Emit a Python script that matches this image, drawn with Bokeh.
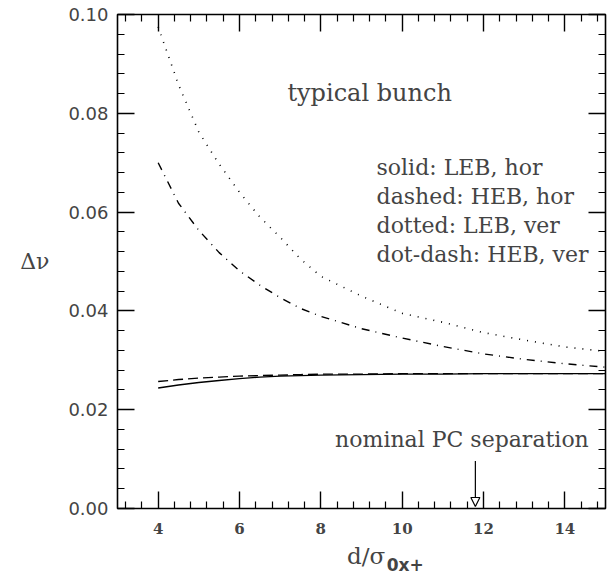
from bokeh.plotting import figure
from bokeh.models import (Range1d, LinearAxis, Label, Arrow, NormalHead, FixedTicker,
                          CustomLabelingPolicy)
from bokeh.layouts import column
from bokeh.embed import file_html
from bokeh.resources import INLINE

# data
x_vals = [4, 4.5, 5, 5.5, 6, 6.5, 7, 7.5, 8, 9, 10, 11, 12, 13, 14, 15]
solid_leb_hor = [0.0244, 0.0250, 0.0255, 0.0259, 0.0263, 0.0266, 0.0268, 0.0269, 0.0270,
                 0.0271, 0.0272, 0.0272, 0.0273, 0.0273, 0.0273, 0.0273]
dashed_heb_hor = [0.0257, 0.0261, 0.0264, 0.0266, 0.0268, 0.0269, 0.0270, 0.0271, 0.0272,
                  0.0272, 0.0273, 0.0273, 0.0273, 0.0273, 0.0273, 0.0273]
dotted_leb_ver = [0.0975, 0.0858, 0.0762, 0.0697, 0.0640, 0.0590, 0.0549, 0.0505, 0.0470,
                  0.0430, 0.0395, 0.0377, 0.0356, 0.0341, 0.0327, 0.0318]
dotdash_heb_ver = [0.0700, 0.0618, 0.0563, 0.0518, 0.0481, 0.0452, 0.0427, 0.0405, 0.0389,
                   0.0364, 0.0345, 0.0328, 0.0313, 0.0302, 0.0293, 0.0286]
x_major = [4, 6, 8, 10, 12, 14]
y_major = [0.0, 0.02, 0.04, 0.06, 0.08, 0.10]
y_labels = ["0.00", "0.02", "0.04", "0.06", "0.08", "0.10"]
legend_lines = ["solid: LEB, hor", "dashed: HEB, hor", "dotted: LEB, ver", "dot-dash: HEB, ver"]
nominal_sep = 11.8

x_minor = [round(3.2 + 0.4 * i, 2) for i in range(30) if 3.2 + 0.4 * i < 15]
x_minor = [v for v in x_minor if all(abs(v - m) > 1e-6 for m in x_major)]
y_minor = [round(0.004 * i, 4) for i in range(26)]
y_minor = [v for v in y_minor if all(abs(v - m) > 1e-6 for m in y_major)]

SERIF = "DejaVu Serif"
SANS = "DejaVu Sans"
W = 610
LEFT = 117
RIGHT = 1
P_H = 540
Q_H = 35

xr = Range1d(3, 15)
p = figure(width=W, height=P_H, x_range=xr, y_range=Range1d(0, 0.1), title=None,
           output_backend="svg", toolbar_location=None,
           x_axis_location=None, y_axis_location=None,
           min_border_left=LEFT, min_border_right=RIGHT, min_border_top=14, min_border_bottom=32)
p.grid.visible = False
p.outline_line_color = "black"
p.outline_line_width = 1.6
p.background_fill_color = "white"
p.border_fill_color = "white"

xt = FixedTicker(ticks=x_major, minor_ticks=x_minor)
yt = FixedTicker(ticks=y_major, minor_ticks=y_minor)

def style(ax, show_labels):
    ax.major_tick_in = 17
    ax.major_tick_out = 0
    ax.minor_tick_in = 7
    ax.minor_tick_out = 0
    ax.major_tick_line_width = 1.4
    ax.minor_tick_line_width = 1.2
    ax.axis_line_color = None
    if not show_labels:
        ax.major_label_text_font_size = "1px"
        ax.major_label_standoff = 0
        ax.major_label_policy = CustomLabelingPolicy(
            code="for (const i of indices) { indices.unset(i) }\nreturn indices")

xb = LinearAxis(ticker=xt)
style(xb, True)
xb.major_label_text_font = SERIF
xb.major_label_text_font_style = "bold"
xb.major_label_text_font_size = "15px"
xb.major_label_standoff = 14
p.add_layout(xb, "below")

xa = LinearAxis(ticker=xt)
style(xa, False)
p.add_layout(xa, "above")

yl = LinearAxis(ticker=yt, axis_label="Δν")
style(yl, True)
yl.major_label_overrides = {v: s for v, s in zip(y_major, y_labels)}
yl.major_label_text_font = SANS
yl.major_label_text_font_size = "18px"
yl.major_label_standoff = 9
yl.axis_label_orientation = "horizontal"
yl.axis_label_text_font = SERIF
yl.axis_label_text_font_style = "normal"
yl.axis_label_text_font_size = "22px"
yl.axis_label_standoff = 16
p.add_layout(yl, "left")

yr = LinearAxis(ticker=yt)
style(yr, False)
p.add_layout(yr, "right")

lw = 1.4
p.line(x_vals, solid_leb_hor, line_color="black", line_width=lw)
p.line(x_vals, dashed_heb_hor, line_color="black", line_width=lw, line_dash="10 5")
p.line(x_vals, dotted_leb_ver, line_color="black", line_width=1.6, line_dash="1 7")
p.line(x_vals, dotdash_heb_ver, line_color="black", line_width=lw, line_dash="8 6 1 6")

p.add_layout(Label(x=9.2, y=0.0842, text="typical bunch", text_align="center",
                   text_baseline="middle", text_font=SERIF, text_font_size="24px"))
for i, t in enumerate(legend_lines):
    p.add_layout(Label(x=9.37, y=0.0690 - i * 0.00587, text=t, text_align="left",
                       text_baseline="middle", text_font=SERIF, text_font_size="22px"))
p.add_layout(Label(x=11.47, y=0.0139, text="nominal PC separation", text_align="center",
                   text_baseline="middle", text_font=SERIF, text_font_size="22px"))

p.add_layout(Arrow(end=NormalHead(size=9, fill_color="white", line_color="black", line_width=1.2),
                   x_start=nominal_sep, y_start=0.0096, x_end=nominal_sep, y_end=0.0004,
                   line_color="black", line_width=1.2))

# x-axis title strip (shares the x range, so horizontal positions are in data units)
q = figure(width=W, height=Q_H, x_range=xr, y_range=Range1d(0, Q_H), title=None,
           output_backend="svg", toolbar_location=None,
           x_axis_location=None, y_axis_location=None,
           min_border_left=LEFT, min_border_right=RIGHT, min_border_top=0, min_border_bottom=0)
q.grid.visible = False
q.outline_line_color = None
q.background_fill_color = "white"
q.border_fill_color = "white"
q.add_layout(Label(x=9.585, y=20, text="d/σ", text_align="right", text_baseline="middle",
                   text_font=SERIF, text_font_size="23px"))
q.add_layout(Label(x=9.62, y=10.5, text="0x+", text_align="left", text_baseline="middle",
                   text_font=SANS, text_font_style="bold", text_font_size="17px"))

layout = column(p, q, spacing=0)
open("out.html", "w").write(file_html(layout, INLINE))
